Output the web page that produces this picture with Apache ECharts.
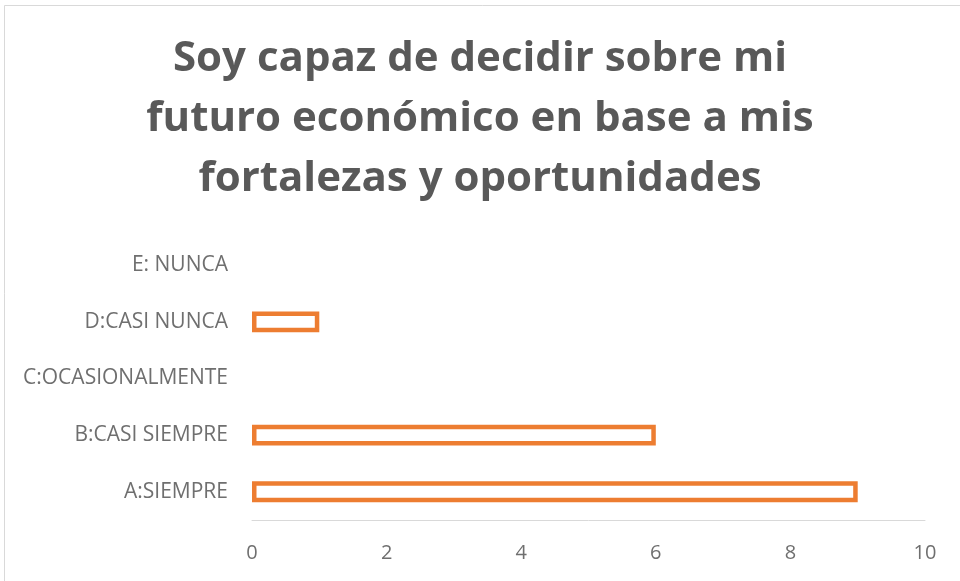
<!DOCTYPE html>
<html>
<head>
<meta charset="utf-8">
<script src="https://cdn.jsdelivr.net/npm/echarts@6/dist/echarts.min.js"></script>
<style>
html, body { margin: 0; padding: 0; background: #fff; }
#main { width: 960px; height: 581px; }
</style>
</head>
<body>
<div id="main"></div>
<script>
var categories = ['A:SIEMPRE', 'B:CASI SIEMPRE', 'C:OCASIONALMENTE', 'D:CASI NUNCA', 'E: NUNCA'];
var values = [9, 6, 0, 1, 0];
var titleText = 'Soy capaz de decidir sobre mi\nfuturo económico en base a mis\nfortalezas y oportunidades';

var myChart = echarts.init(document.getElementById('main'));

var option = {
    backgroundColor: '#fff',
    animation: false,
    title: {
        text: titleText,
        left: 'center',
        top: 24,
        textStyle: {
            fontFamily: 'Open Sans',
            fontWeight: 'bold',
            fontSize: 42,
            lineHeight: 60,
            color: '#595959'
        }
    },
    graphic: [{
        type: 'rect',
        shape: { x: 4.5, y: 5.5, width: 980, height: 600 },
        style: { fill: 'none', stroke: '#d9d9d9', lineWidth: 1 },
        silent: true
    }],
    grid: {
        left: 252,
        right: 35,
        top: 237,
        bottom: 61
    },
    xAxis: {
        type: 'value',
        min: 0,
        max: 10,
        interval: 2,
        axisLine: { show: true, lineStyle: { color: '#d9d9d9', width: 1 } },
        axisTick: { show: false },
        splitLine: { show: false },
        axisLabel: {
            color: '#6f6f6f',
            fontFamily: 'Open Sans',
            fontSize: 20,
            margin: 23
        }
    },
    yAxis: {
        type: 'category',
        data: categories,
        axisLine: { show: false },
        axisTick: { show: false },
        axisLabel: {
            color: '#6f6f6f',
            fontFamily: 'Open Sans',
            fontSize: 21,
            margin: 24
        }
    },
    series: [{
        type: 'bar',
        // zero values are drawn without an outline
        data: values.map(function (v) {
            return v === 0 ? { value: v, itemStyle: { borderWidth: 0 } } : v;
        }),
        barWidth: '37%',
        itemStyle: {
            color: '#fff',
            borderColor: '#ed7d31',
            borderWidth: 4.5
        }
    }]
};

myChart.setOption(option);
</script>
</body>
</html>
